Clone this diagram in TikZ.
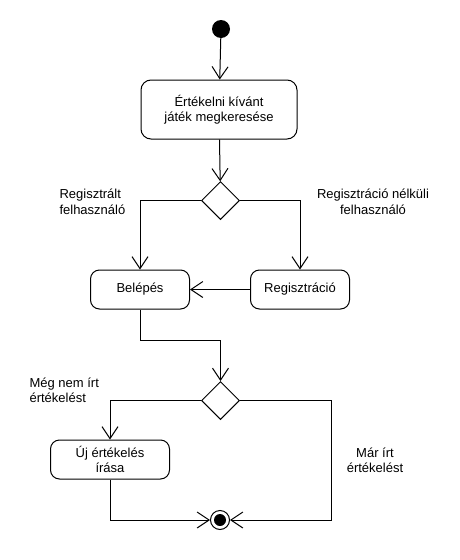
\documentclass[tikz,border=0pt]{standalone}
\usepackage{fontspec}
\setmainfont{Liberation Sans}
\usetikzlibrary{shapes.geometric,arrows.meta}

\begin{document}
\begin{tikzpicture}[x=1pt, y=-1pt, font=\fontsize{13}{15.5}\selectfont]
%% page size is fixed to the drawing area
%% arrows are open barbs as in the UML activity editor
\tikzstyle{arc}=[-{Straight Barb[length=12pt,width=16pt]},line width=1pt]
\tikzstyle{action}=[draw,line width=1pt,rounded corners=9pt,align=center,minimum width=99pt,minimum height=39pt,inner sep=2pt]
\tikzstyle{decision}=[draw,diamond,line width=1pt,minimum size=38pt,inner sep=0pt]
\tikzstyle{initial}=[circle,fill=black,minimum size=18pt,inner sep=0pt]
\tikzstyle{final}=[circle,draw,line width=1pt,minimum size=19pt,inner sep=0pt]
\fill[white] (0,0) rectangle (460,560);
\useasboundingbox (0,0) rectangle (460,560);
%% TikZ-figure elements %%
\node[initial] at (221,29) (start) {};
\node[action, minimum width=156pt, minimum height=59pt, rounded corners=10pt] at (219,109.5) (search) {Értékelni kívánt\\játék megkeresése};
\node[decision] at (220.5,200.5) (choice1) {};
%% label for branch to Belépés
\draw (56,202) node[anchor=west,align=left] {Regisztrált\\felhasználó};
%% label for branch to Regisztráció
\draw (373,202) node[align=center] {Regisztráció nélküli\\felhasználó};
\node[action] at (140,289.5) (login) {Belépés};
\node[action] at (300,289.5) (register) {Regisztráció};
\coordinate (joint) at (220.5,340);
\node[decision] at (220.5,400.5) (choice2) {};
%% label for branch to Új értékelés írása
\draw (26,390.5) node[anchor=west,align=left] {Még nem írt\\értékelést};
%% label for branch to the final node
\draw (375,460.5) node[align=center] {Már írt\\értékelést};
\node[action, minimum width=119pt] at (110,459.5) (write) {Új értékelés\\írása};
\node[final] at (220,520) (end) {};
\node[circle,fill=black,minimum size=12pt,inner sep=0pt] at (end.center) {};
\coordinate (corner) at (331,520);
%% arcs
\draw[arc] (start) -- (search);
\draw[arc] (search) -- (choice1);
\draw[arc] (choice1) -| (login);
\draw[arc] (choice1) -| (register);
\draw[arc] (register) -- (login);
\draw[arc] (login) |- (joint) -- (choice2);
\draw[arc] (choice2) -| (write);
\draw[arc] (write) |- (end);
\draw[arc] (choice2) -| (corner) -- (end);
\end{tikzpicture}
\end{document}
